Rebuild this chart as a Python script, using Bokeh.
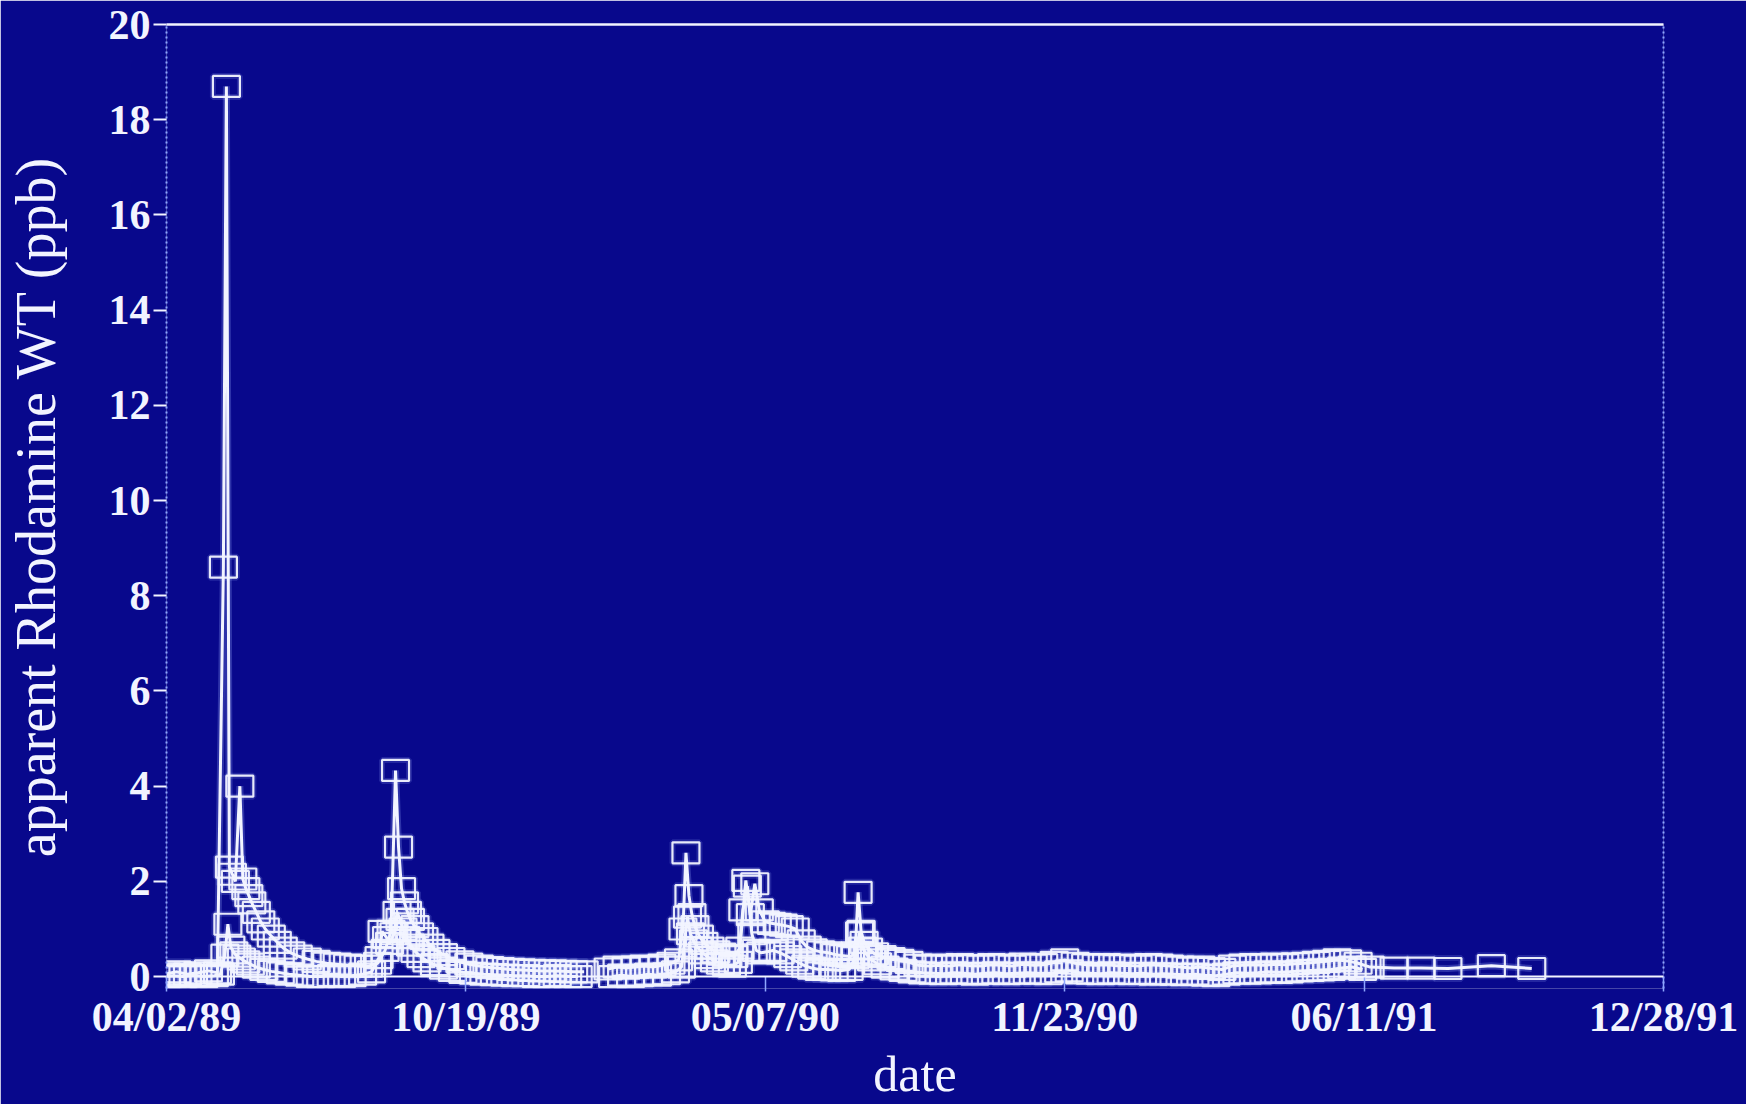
import pandas as pd
from bokeh.plotting import figure
from bokeh.models import (Range1d, FixedTicker, DatetimeTickFormatter, LinearAxis,
                          Span, ColumnDataSource)
from bokeh.embed import file_html
from bokeh.resources import INLINE

# ---------------- data ----------------
START = "1989-04-02"
END = "1991-12-28"
X_TICK_DATES = ["1989-04-02", "1989-10-19", "1990-05-07",
                "1990-11-23", "1991-06-11", "1991-12-28"]
Y_TICKS = [0, 2, 4, 6, 8, 10, 12, 14, 16, 18, 20]

# series A: days after 04/02/89, apparent Rhodamine WT (ppb)
a_days = [0, 7, 14, 21, 28, 34, 38, 40, 42, 44, 46, 49, 51, 53, 55, 57, 60, 63, 66, 70,
          74, 78, 83, 88, 94, 100, 107, 114, 121, 128, 135, 141, 146,
          150, 153, 155, 157, 159, 161, 163, 166, 169, 172, 176, 180, 185, 190, 196, 202,
          209, 216, 223, 230, 237, 244, 251, 258, 265, 272, 279]
a_vals = [0.06, 0.10, 0.05, 0.08, 0.12, 0.08, 8.6, 18.7, 2.3, 2.15, 2.0, 4.0, 2.05, 1.85,
          1.7, 1.55, 1.35, 1.15, 1.0, 0.85, 0.72, 0.6, 0.5, 0.43, 0.37, 0.32, 0.28, 0.26,
          0.24, 0.22, 0.22, 0.28, 0.55,
          0.95, 4.33, 2.72, 1.85, 1.55, 1.35, 1.2, 1.05, 0.9, 0.8, 0.66, 0.55, 0.46, 0.38,
          0.31, 0.26, 0.22, 0.19, 0.17, 0.15, 0.14, 0.13, 0.12, 0.12, 0.11, 0.10, 0.10]

# series A after the sampling gap
a2_days = [295, 301, 307, 313, 319, 325, 331, 337, 342, 345, 347, 349, 351, 353, 356, 359,
           363, 367, 371, 375, 379, 383, 387, 390, 393, 396, 400, 404, 408, 412, 416, 420,
           424, 428, 432, 437, 442, 447, 452, 457, 460, 462, 464, 466, 469, 473, 478, 484,
           490, 496, 502, 509, 516, 523, 530, 537, 544, 551, 558, 565, 572, 579, 586, 593,
           600, 607, 614, 621, 628, 635, 642, 649, 656, 663, 670, 677, 684, 691, 698, 705,
           712, 719, 726, 733, 740, 747, 754, 761, 768, 775, 782, 789, 796, 804, 820, 838,
           856, 885, 912]
a2_vals = [0.16, 0.20, 0.18, 0.20, 0.22, 0.20, 0.24, 0.28, 0.35, 1.0, 2.6, 1.7, 1.3, 1.05,
           0.85, 0.7, 0.6, 0.52, 0.47, 0.44, 0.42, 0.6, 2.02, 1.3, 1.95, 1.4, 1.15, 1.12,
           1.1, 1.08, 1.05, 1.0, 0.75, 0.62, 0.56, 0.52, 0.5, 0.46, 0.44, 0.42, 0.5, 1.77,
           0.95, 0.72, 0.58, 0.48, 0.42, 0.38, 0.34, 0.3, 0.24, 0.22, 0.24, 0.22, 0.25,
           0.23, 0.22, 0.25, 0.24, 0.22, 0.26, 0.24, 0.25, 0.3, 0.35, 0.28, 0.25, 0.24,
           0.25, 0.23, 0.24, 0.22, 0.25, 0.24, 0.22, 0.2, 0.18, 0.2, 0.17, 0.15, 0.22,
           0.24, 0.25, 0.24, 0.26, 0.25, 0.27, 0.28, 0.3, 0.32, 0.35, 0.33, 0.28, 0.2,
           0.18, 0.18, 0.17, 0.23, 0.17]

# series B (lower band)
b_days = [0, 4, 11, 18, 25, 32, 36, 39, 41, 43, 45, 47, 50, 53, 56, 60, 65, 70, 76, 82,
          89, 96, 103, 110, 117, 124, 131, 137, 142, 144, 147, 149, 152, 154, 156, 158,
          160, 163, 166, 170, 174, 179, 185, 191, 198, 205, 212, 219, 226, 233, 240, 247,
          254, 261, 268, 275]
b_vals = [0.0, 0.02, 0.0, 0.03, 0.0, 0.02, 0.05, 0.45, 1.1, 0.62, 0.5, 0.43, 0.37, 0.31,
          0.26, 0.2, 0.15, 0.11, 0.08, 0.05, 0.03, 0.0, 0.0, 0.02, 0.0, 0.02, 0.05, 0.1,
          0.4, 0.95, 0.82, 0.7, 0.9, 1.35, 1.2, 1.0, 0.82, 0.66, 0.53, 0.42, 0.33, 0.25,
          0.18, 0.13, 0.09, 0.07, 0.05, 0.04, 0.03, 0.02, 0.02, 0.0, 0.0, 0.02, 0.0, 0.0]

b2_days = [298, 304, 310, 316, 322, 328, 334, 340, 344, 348, 350, 352, 355, 358, 362, 366,
           370, 374, 378, 382, 385, 388, 391, 394, 397, 401, 405, 410, 415, 419, 423, 427,
           431, 436, 441, 446, 451, 456, 460, 463, 465, 468, 471, 475, 480, 486, 492, 498,
           505, 512, 519, 526, 533, 540, 547, 554, 561, 568, 575, 582, 589, 596, 603, 610,
           617, 624, 631, 638, 645, 652, 659, 666, 673, 680, 687, 694, 701, 708, 715, 722,
           729, 736, 743, 750, 757, 764, 771, 778, 785, 792, 799]
b2_vals = [0.0, 0.03, 0.0, 0.02, 0.05, 0.03, 0.06, 0.1, 0.2, 1.25, 0.9, 0.75, 0.6, 0.5,
           0.4, 0.33, 0.28, 0.25, 0.22, 0.3, 1.4, 1.9, 0.9, 0.55, 0.5, 0.52, 0.55, 0.5,
           0.42, 0.35, 0.28, 0.22, 0.18, 0.15, 0.15, 0.14, 0.13, 0.15, 0.4, 0.92, 0.6,
           0.45, 0.35, 0.27, 0.2, 0.16, 0.13, 0.1, 0.08, 0.07, 0.06, 0.08, 0.07, 0.05,
           0.07, 0.08, 0.06, 0.07, 0.08, 0.07, 0.06, 0.1, 0.12, 0.08, 0.07, 0.06, 0.08,
           0.07, 0.06, 0.07, 0.05, 0.06, 0.05, 0.04, 0.05, 0.03, 0.02, 0.05, 0.08, 0.07,
           0.08, 0.1, 0.09, 0.1, 0.12, 0.13, 0.14, 0.15, 0.18, 0.2, 0.15]

# ---------------- styling ----------------
BG = "#08088c"
FG = "#f2f4ff"
GLOW = "#9fb4ff"
DIM = "#8ea6ff"
SERIF = "Liberation Serif"

t0 = pd.Timestamp(START)


def to_dates(days):
    return [(t0 + pd.Timedelta(days=d)).to_pydatetime() for d in days]


p = figure(width=1746, height=1104, x_axis_type="datetime",
           x_range=Range1d(t0.to_pydatetime(), pd.Timestamp(END).to_pydatetime()),
           y_range=Range1d(-0.25, 20),
           output_backend="svg", toolbar_location=None,
           min_border_left=166, min_border_right=83, min_border_top=24,
           min_border_bottom=110,
           background_fill_color=BG, border_fill_color=BG, outline_line_color=None)
p.grid.visible = False

# zero line (x axis baseline)
p.add_layout(Span(location=0, dimension="width", line_color=FG, line_width=2))

series = [(a_days, a_vals), (a2_days, a2_vals), (b_days, b_vals), (b2_days, b2_vals)]
sources = [ColumnDataSource(dict(x=to_dates(d), y=v)) for d, v in series]

# soft glow underneath (photographed screen bloom)
for src in sources:
    p.line("x", "y", source=src, line_color=GLOW, line_width=7, line_alpha=0.25)
    p.rect("x", "y", width=27, height=21, width_units="screen", height_units="screen",
           source=src, fill_color=None, line_color=GLOW, line_width=6, line_alpha=0.18)

for src in sources:
    p.line("x", "y", source=src, line_color=FG, line_width=3)
    p.rect("x", "y", width=27, height=21, width_units="screen", height_units="screen",
           source=src, fill_color=None, line_color=FG, line_width=2.2, line_alpha=0.95)

# left axis
ya = p.yaxis[0]
ya.ticker = FixedTicker(ticks=Y_TICKS)
ya.axis_label = "apparent Rhodamine WT (ppb)"
ya.axis_label_text_font = SERIF
ya.axis_label_text_font_size = "56px"
ya.axis_label_text_font_style = "normal"
ya.axis_label_text_color = FG
ya.axis_label_standoff = 39
ya.major_label_text_font = SERIF
ya.major_label_text_font_size = "42px"
ya.major_label_text_font_style = "bold"
ya.major_label_text_color = FG
ya.major_label_standoff = 3
ya.axis_line_color = DIM
ya.axis_line_dash = "2 3"
ya.axis_line_width = 2
ya.major_tick_in = 0
ya.major_tick_out = 13
ya.major_tick_line_color = FG
ya.major_tick_line_width = 2
ya.minor_tick_line_color = None

# bottom axis
xa = p.xaxis[0]
xa.ticker = FixedTicker(ticks=[pd.Timestamp(d).value / 1e6 for d in X_TICK_DATES])
fmt = "%m/%d/%y"
xa.formatter = DatetimeTickFormatter(microseconds=fmt, milliseconds=fmt, seconds=fmt,
                                     minsec=fmt, minutes=fmt, hourmin=fmt, hours=fmt,
                                     days=fmt, months=fmt, years=fmt)
xa.axis_label = "date"
xa.axis_label_text_font = SERIF
xa.axis_label_text_font_size = "50px"
xa.axis_label_text_font_style = "normal"
xa.axis_label_text_color = FG
xa.axis_label_standoff = 3
xa.major_label_text_font = SERIF
xa.major_label_text_font_size = "42px"
xa.major_label_text_font_style = "bold"
xa.major_label_text_color = FG
xa.major_label_standoff = 2
xa.axis_line_color = None
xa.major_tick_in = 12
xa.major_tick_out = 3
xa.major_tick_line_color = DIM
xa.major_tick_line_width = 1.5
xa.minor_tick_line_color = None

# top frame line
top = LinearAxis(ticker=FixedTicker(ticks=[]), axis_line_color=FG, axis_line_width=2.5,
                 major_tick_line_color=None, minor_tick_line_color=None,
                 major_label_text_font_size="0px")
p.add_layout(top, "above")

# right frame line (dotted)
right = LinearAxis(ticker=FixedTicker(ticks=[]), axis_line_color=DIM, axis_line_width=2,
                   axis_line_dash="2 3", major_tick_line_color=None,
                   minor_tick_line_color=None, major_label_text_font_size="0px")
p.add_layout(right, "right")

open("out.html", "w").write(file_html(p, INLINE))
